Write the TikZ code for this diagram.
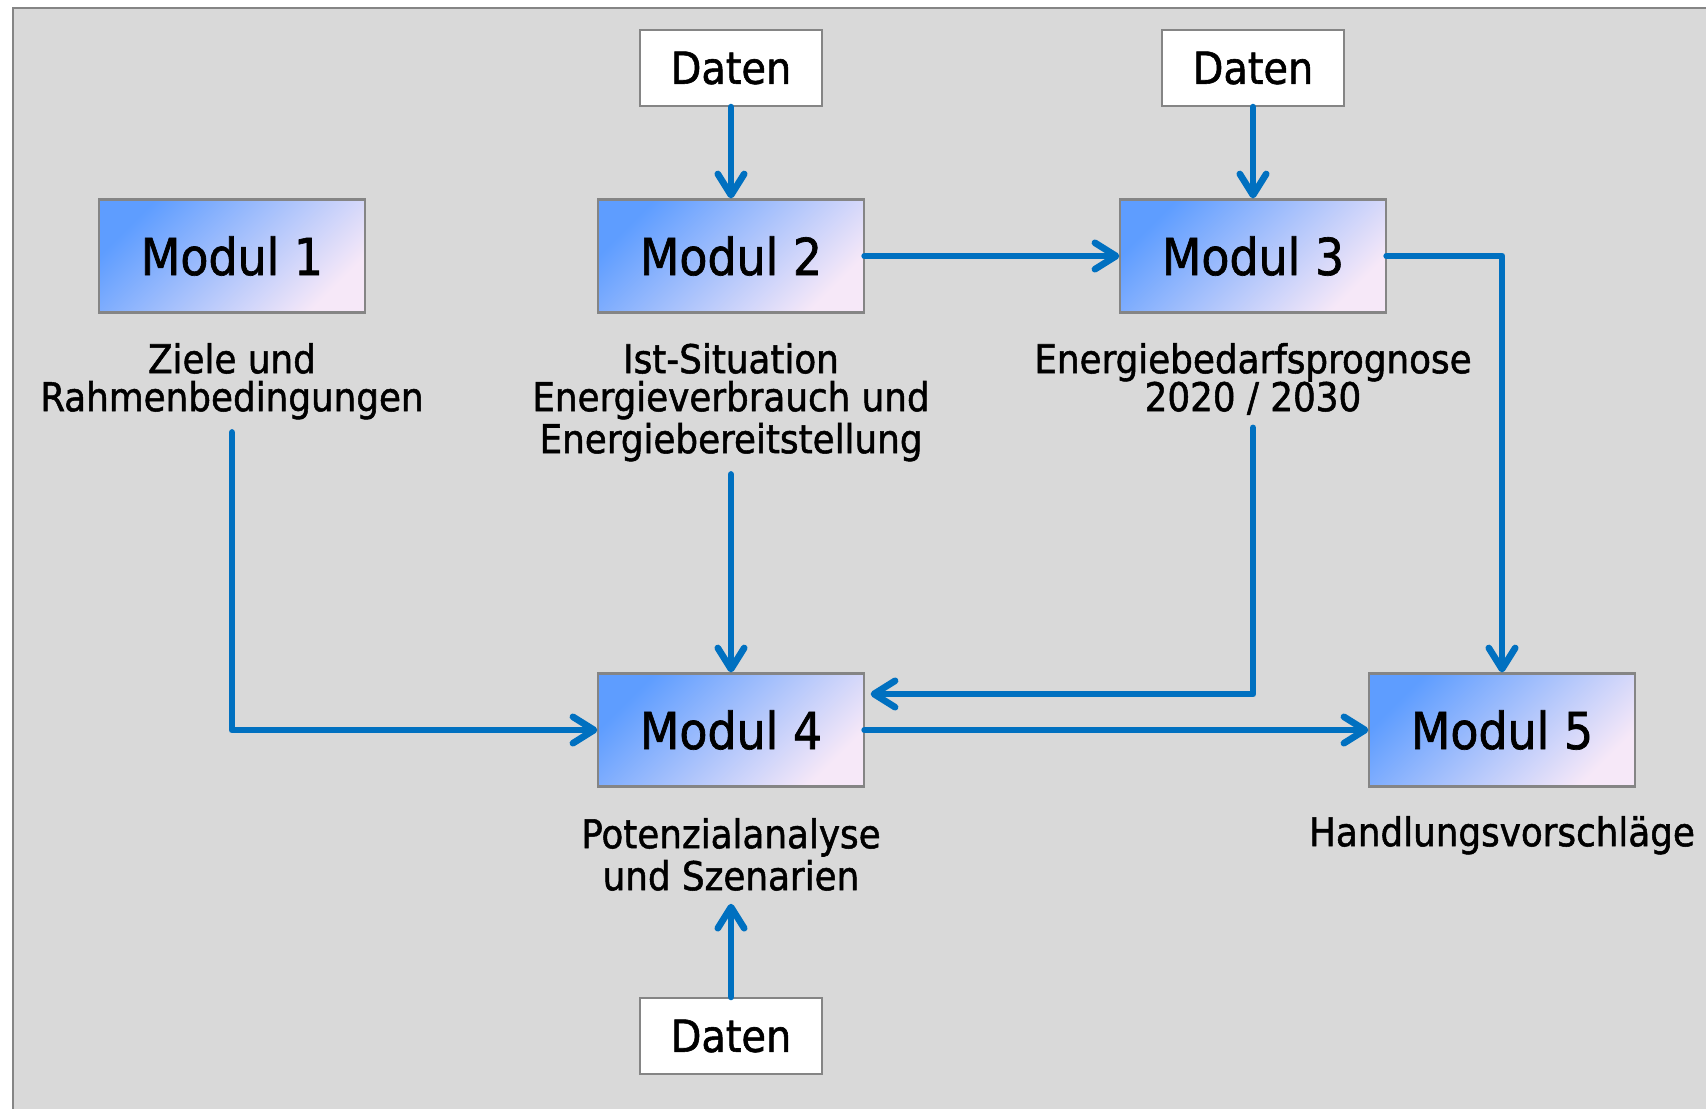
\documentclass[tikz,border=0pt]{standalone}
\usepackage{fontspec}
\setmainfont{DejaVu Sans Condensed}[UprightFeatures={FakeBold=1.3}]
\usetikzlibrary{arrows.meta, positioning}
\definecolor{pfeil}{HTML}{0070C0}
\definecolor{hgrund}{HTML}{D9D9D9}
\definecolor{rahmen}{HTML}{858585}
\definecolor{blaudunkel}{HTML}{5E9DFF}
\definecolor{blauhell}{HTML}{86C2FF}
\definecolor{rosa}{HTML}{F6E8F8}

\begin{document}
\begin{tikzpicture}[x=0.01cm,y=-0.01cm,
	modul/.style={draw=rahmen,line width=0.6pt,minimum width=2.65cm,minimum height=1.13cm,
		top color=blaudunkel,middle color=blauhell,bottom color=rosa,shading angle=45,
		font=\fontsize{14.5}{16}\selectfont},
	daten/.style={draw=rahmen,fill=white,line width=0.6pt,minimum width=1.82cm,minimum height=0.76cm,
		font=\fontsize{12.6}{14}\selectfont},
	beschr/.style={anchor=north,align=center,inner sep=0pt,inner ysep=3.5pt,
		font=\fontsize{11.3}{10.8}\selectfont},
	fluss/.style={draw=pfeil,line width=1.9pt,line cap=round,line join=round,
		-{Straight Barb[length=6pt,width=7.5pt,round]}}]
	\useasboundingbox (0,0) rectangle (1706,1108);
	\clip (0,0) rectangle (1706,1108);
	\draw[fill=hgrund,draw=rahmen,line width=0.6pt] (13,8) rectangle (1730,1130);
	% Module
	\node[modul] (m1) at (232,256) {Modul 1};
	\node[modul] (m2) at (731,256) {Modul 2};
	\node[modul] (m3) at (1253,256) {Modul 3};
	\node[modul] (m4) at (731,730) {Modul 4};
	\node[modul] (m5) at (1502,730) {Modul 5};
	% Daten
	\node[daten] (d2) at (731,68) {Daten};
	\node[daten] (d3) at (1253,68) {Daten};
	\node[daten] (d4) at (731,1036) {Daten};
	% Beschriftungen
	\node[beschr] (b1) at (232,330) {Ziele und\\Rahmenbedingungen};
	\node[beschr] (b2) at (731,330) {Ist-Situation\\Energieverbrauch und\\Energiebereitstellung};
	\node[beschr] (b3) at (1253,330) {Energiebedarfsprognose\\2020 / 2030};
	\node[beschr] (b4) at (731,805) {Potenzialanalyse\\und Szenarien};
	\node[beschr] (b5) at (1502,803) {Handlungsvorschläge};
	% Pfeile
	\draw[fluss] (d2) -- (m2);
	\draw[fluss] (d3) -- (m3);
	\draw[fluss] (m2) -- (m3);
	\draw[fluss] (m3.east) -| (m5.north);
	\draw[fluss] (b1.south) |- (m4.west);
	\draw[fluss] (b2.south) -- (m4.north);
	\draw[fluss] (b3.south) |- ([xshift=0.06cm,yshift=0.36cm]m4.east);
	\draw[fluss] (m4) -- (m5);
	\draw[fluss] (d4) -- (b4);
\end{tikzpicture}
\end{document}
